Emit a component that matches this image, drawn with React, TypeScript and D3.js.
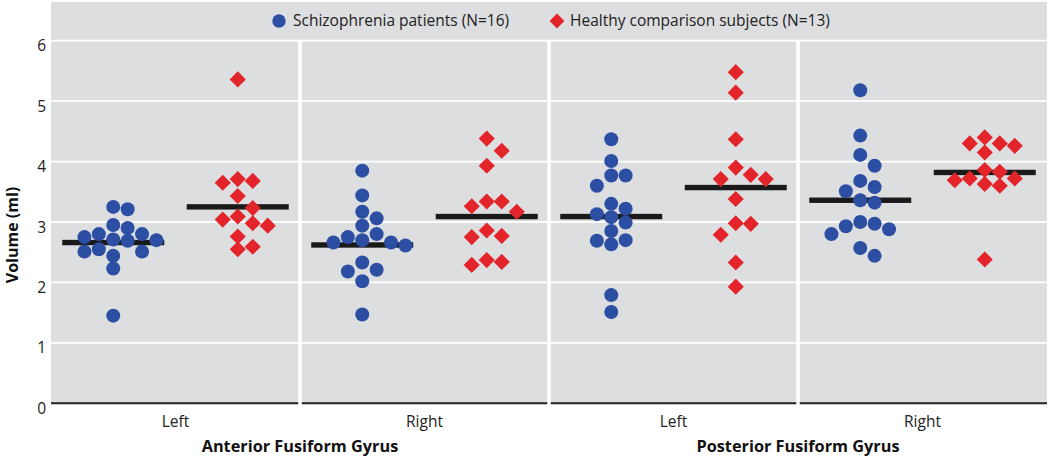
import * as d3 from "d3";

// panels left to right
const PANELS = ["antLeft", "antRight", "postLeft", "postRight"];
const SIDE_LABELS = ["Left", "Right", "Left", "Right"];
const REGIONS = ["Anterior Fusiform Gyrus", "Posterior Fusiform Gyrus"];
const GROUPS = ["schiz", "healthy"];
const Y_TICKS = [0, 1, 2, 3, 4, 5, 6];

const LEGEND_SCHIZ = "Schizophrenia patients (N=16)";
const LEGEND_HEALTHY = "Healthy comparison subjects (N=13)";

// volumes (ml)
const SCHIZ_ANT_LEFT = [3.25, 3.21, 2.95, 2.9, 2.8, 2.8, 2.75, 2.71, 2.7, 2.69, 2.55, 2.51, 2.51, 2.44, 2.23, 1.45];
const SCHIZ_ANT_RIGHT = [3.85, 3.44, 3.17, 3.06, 2.94, 2.8, 2.75, 2.7, 2.66, 2.66, 2.61, 2.33, 2.21, 2.18, 2.02, 1.47];
const SCHIZ_POST_LEFT = [4.37, 4.01, 3.77, 3.77, 3.6, 3.3, 3.22, 3.13, 3.08, 2.99, 2.85, 2.7, 2.69, 2.63, 1.79, 1.51];
const SCHIZ_POST_RIGHT = [5.18, 4.43, 4.11, 3.93, 3.68, 3.58, 3.51, 3.36, 3.32, 3.0, 2.97, 2.93, 2.88, 2.8, 2.57, 2.44];

const HEALTHY_ANT_LEFT = [5.36, 3.71, 3.68, 3.65, 3.43, 3.23, 3.09, 3.04, 2.98, 2.94, 2.76, 2.59, 2.55];
const HEALTHY_ANT_RIGHT = [4.38, 4.18, 3.93, 3.34, 3.34, 3.26, 3.17, 2.86, 2.77, 2.75, 2.37, 2.34, 2.29];
const HEALTHY_POST_LEFT = [5.48, 5.14, 4.37, 3.9, 3.78, 3.71, 3.71, 3.38, 2.98, 2.97, 2.79, 2.33, 1.93];
const HEALTHY_POST_RIGHT = [4.4, 4.3, 4.3, 4.26, 4.15, 3.86, 3.83, 3.72, 3.72, 3.69, 3.63, 3.6, 2.38];

const SCHIZ_MEANS = [2.66, 2.62, 3.09, 3.36];
const HEALTHY_MEANS = [3.25, 3.09, 3.57, 3.82];

const SCHIZ = [SCHIZ_ANT_LEFT, SCHIZ_ANT_RIGHT, SCHIZ_POST_LEFT, SCHIZ_POST_RIGHT];
const HEALTHY = [HEALTHY_ANT_LEFT, HEALTHY_ANT_RIGHT, HEALTHY_POST_LEFT, HEALTHY_POST_RIGHT];

const W = 1050;
const H = 458;
const BLUE = "#2c4fa3";
const RED = "#e3252b";
const BG = "#dddee0";
const FONT = "'Open Sans', Lato, sans-serif";

const x0 = 51;
const x1 = 1047;
const y = d3.scaleLinear().domain([0, 6]).range([403.3, 40.7]);
const panel = d3.scaleBand<string>().domain(PANELS).range([x0, x1]);
const group = d3.scalePoint<string>().domain(GROUPS).range([0, panel.bandwidth()]).padding(0.5);

const diamond = d3.symbol(d3.symbolSquare, 130)()!;
const legendDiamond = d3.symbol(d3.symbolSquare, 110)()!;

// simple column beeswarm: highest values first, nearest free column
function columnDodge(values: number[], step: number, minGap: number) {
  const placed: { col: number; py: number }[] = [];
  const out: number[] = new Array(values.length);
  const order = values.map((_, i) => i).sort((a, b) => values[b] - values[a]);
  for (const i of order) {
    const py = y(values[i]);
    for (let k = 0; k < 40; k++) {
      const c = k === 0 ? 0 : k % 2 ? (k + 1) / 2 : -k / 2;
      if (!placed.some(p => p.col === c && Math.abs(p.py - py) < minGap)) {
        placed.push({ col: c, py });
        out[i] = c * step;
        break;
      }
    }
  }
  return out;
}

export default function App() {
  const barW = 102;

  return (
    <svg
      width={W}
      height={H}
      style={{ position: "absolute", left: 0, top: 0, background: "#fff" }}
      fontFamily={FONT}
    >
      <rect x={x0} y={2} width={x1 - x0} height={y(0) - 2} fill={BG} />

      {/* gridlines */}
      {Y_TICKS.filter(t => t > 0).map(t => (
        <line key={t} x1={x0} x2={x1} y1={y(t)} y2={y(t)} stroke="#fff" strokeWidth={1.8} />
      ))}
      <line x1={x0} x2={x1} y1={y(0)} y2={y(0)} stroke="#222" strokeWidth={2} />

      {/* panel dividers */}
      {PANELS.slice(1).map(p => (
        <line key={p} x1={panel(p)!} x2={panel(p)!} y1={y(6)} y2={y(0) + 2} stroke="#fff" strokeWidth={3.5} />
      ))}

      {/* y tick labels */}
      {Y_TICKS.map(t => (
        <text key={t} x={46} y={y(t) + 10.5} textAnchor="end" fontSize={15.5} fill="#222">
          {t}
        </text>
      ))}
      <text
        transform={`translate(12,235) rotate(-90)`}
        textAnchor="middle"
        dominantBaseline="central"
        fontSize={16}
        fontWeight="bold"
        fill="#111"
      >
        Volume (ml)
      </text>

      {PANELS.map((p, i) => {
        const px = panel(p)!;
        const cs = px + group("schiz")!;
        const ch = px + group("healthy")!;
        const sOff = columnDodge(SCHIZ[i], 14.4, 12.5);
        const hOff = columnDodge(HEALTHY[i], 15, 12.5);
        return (
          <g key={p}>
            <rect x={cs - barW / 2} y={y(SCHIZ_MEANS[i]) - 2.7} width={barW} height={5.4} fill="#1a1a1a" />
            <rect x={ch - barW / 2} y={y(HEALTHY_MEANS[i]) - 2.7} width={barW} height={5.4} fill="#1a1a1a" />
            {SCHIZ[i].map((v, j) => (
              <circle key={j} cx={cs + sOff[j]} cy={y(v)} r={7} fill={BLUE} />
            ))}
            {HEALTHY[i].map((v, j) => (
              <path
                key={j}
                d={diamond}
                transform={`translate(${ch + hOff[j]},${y(v)}) rotate(45)`}
                fill={RED}
              />
            ))}
            <text x={px + panel.bandwidth() / 2} y={427} textAnchor="middle" fontSize={15.5} fill="#222">
              {SIDE_LABELS[i]}
            </text>
          </g>
        );
      })}

      {REGIONS.map((r, i) => (
        <text
          key={r}
          x={panel(PANELS[i * 2 + 1])!}
          y={452}
          textAnchor="middle"
          fontSize={16.3}
          fontWeight="bold"
          fill="#111"
        >
          {r}
        </text>
      ))}

      {/* legend */}
      <circle cx={279} cy={21} r={6.7} fill={BLUE} />
      <text x={293} y={26} fontSize={15.5} fill="#222">
        {LEGEND_SCHIZ}
      </text>
      <path d={legendDiamond} transform="translate(557,21) rotate(45)" fill={RED} />
      <text x={570} y={26} fontSize={15.5} fill="#222">
        {LEGEND_HEALTHY}
      </text>
    </svg>
  );
}
